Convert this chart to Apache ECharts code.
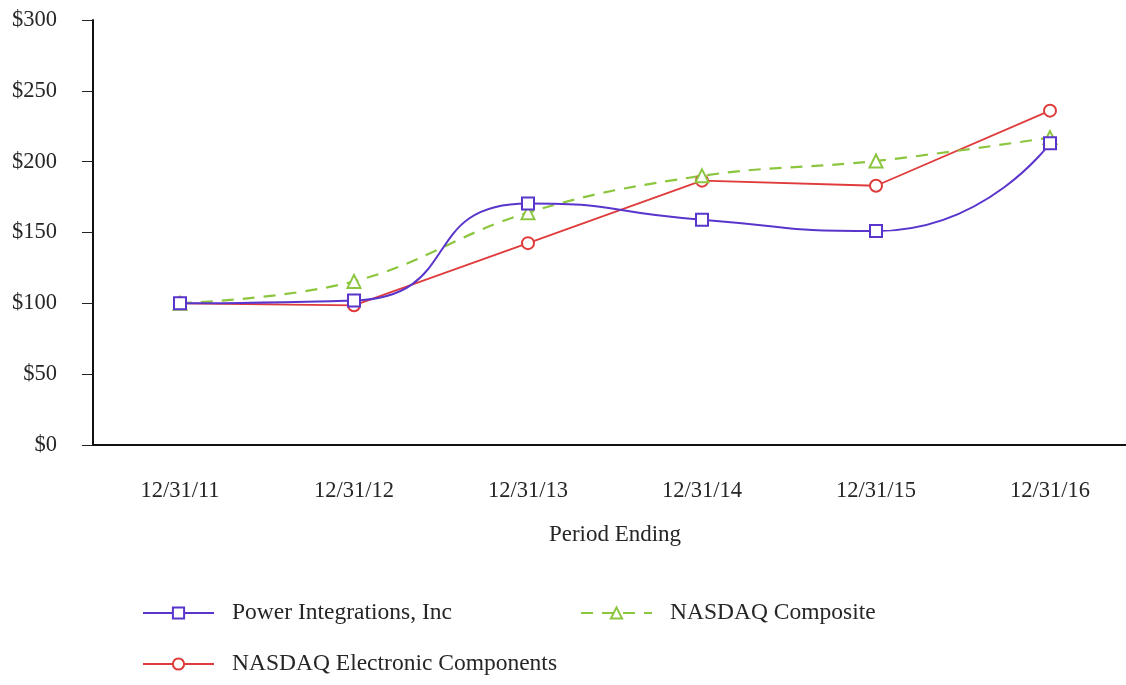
<!DOCTYPE html>
<html>
<head>
<meta charset="utf-8">
<script src="https://cdn.jsdelivr.net/npm/echarts@6/dist/echarts.min.js"></script>
<style>
html,body{margin:0;padding:0;background:#fff;}
#chart{width:1126px;height:685px;}
</style>
</head>
<body>
<div id="chart"></div>
<script>
var categories = ['12/31/11', '12/31/12', '12/31/13', '12/31/14', '12/31/15', '12/31/16'];
var powerIntegrations = [100, 102, 170.5, 159, 151, 213];
var nasdaqComposite = [100, 115.5, 164, 190, 200.5, 217];
var nasdaqElectronic = [100, 98.6, 142.5, 186.6, 183, 236];
var yTicks = [0, 50, 100, 150, 200, 250, 300];

var FONT = '"Liberation Serif", "Times New Roman", serif';
var TXT = '#262626';
var PURPLE = '#5a35cc';
var GREEN = '#8cc63f';
var RED = '#df3b3b';

var chart = echarts.init(document.getElementById('chart'), null, {renderer: 'canvas'});
var legendText = {fontFamily: FONT, fontSize: 23.5, color: TXT, padding: [0, 0, 0, 13]};
var legendCommon = {itemWidth: 71, itemHeight: 14, textStyle: legendText};
chart.setOption({
  animation: false,
  backgroundColor: '#ffffff',
  textStyle: {fontFamily: FONT},
  grid: {left: 93, top: 20, height: 425, width: 1044, containLabel: false, outerBoundsMode: 'none'},
  xAxis: {
    type: 'category',
    data: categories,
    boundaryGap: true,
    name: 'Period Ending',
    nameLocation: 'middle',
    nameGap: 78,
    nameTextStyle: {fontFamily: FONT, fontSize: 23, color: TXT},
    axisLine: {lineStyle: {color: '#111', width: 2}},
    axisTick: {alignWithLabel: true, length: 10, lineStyle: {color: '#222', width: 1}},
    axisLabel: {fontFamily: FONT, fontSize: 22.5, color: TXT, margin: 35},
    splitLine: {show: false}
  },
  yAxis: {
    type: 'value',
    min: yTicks[0],
    max: yTicks[yTicks.length - 1],
    interval: yTicks[1] - yTicks[0],
    axisLine: {show: true, lineStyle: {color: '#111', width: 2}},
    axisTick: {show: true, length: 11, lineStyle: {color: '#222', width: 1}},
    axisLabel: {fontFamily: FONT, fontSize: 22.5, color: TXT, margin: 36,
      formatter: function (v) { return '$' + v; }},
    splitLine: {show: false}
  },
  legend: [
    Object.assign({data: ['Power Integrations, Inc'], left: 137, top: 596}, legendCommon),
    Object.assign({data: ['NASDAQ Composite'], left: 575, top: 596}, legendCommon),
    Object.assign({data: ['NASDAQ Electronic Components'], left: 137, top: 647}, legendCommon)
  ],
  series: [
    {
      name: 'NASDAQ Electronic Components',
      type: 'line',
      data: nasdaqElectronic,
      smooth: false,
      symbol: 'emptyCircle',
      symbolSize: 12,
      lineStyle: {color: RED, width: 1.8},
      itemStyle: {color: RED, borderWidth: 1.8}
    },
    {
      name: 'NASDAQ Composite',
      type: 'line',
      data: nasdaqComposite,
      smooth: 0.4,
      symbol: 'emptyTriangle',
      symbolSize: 13,
      lineStyle: {color: GREEN, width: 2.2, type: [12, 9]},
      itemStyle: {color: GREEN, borderWidth: 1.8}
    },
    {
      name: 'Power Integrations, Inc',
      type: 'line',
      data: powerIntegrations,
      smooth: 0.6,
      symbol: 'emptyRect',
      symbolSize: 12,
      lineStyle: {color: PURPLE, width: 2},
      itemStyle: {color: PURPLE, borderWidth: 1.8}
    }
  ]
});
</script>
</body>
</html>
